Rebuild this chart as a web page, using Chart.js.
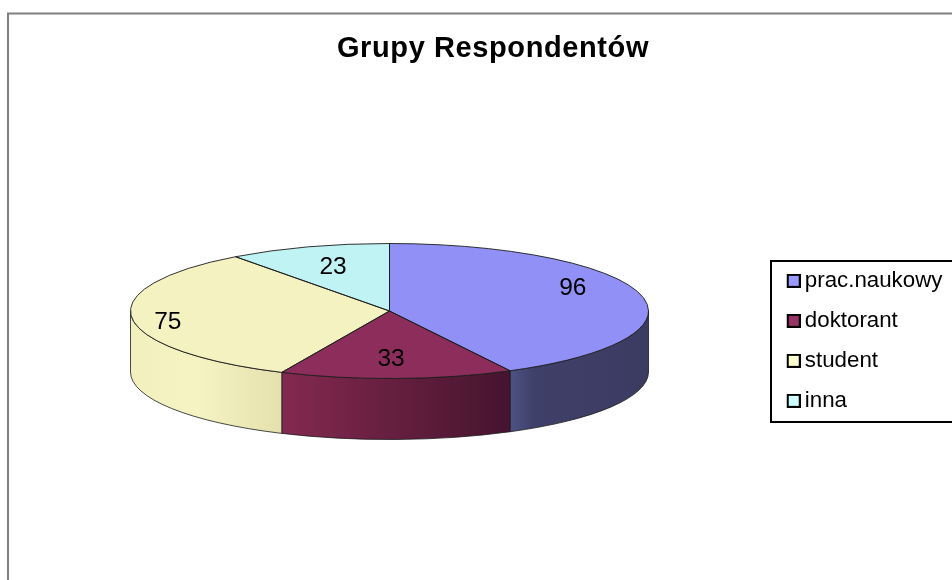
<!DOCTYPE html>
<html lang="pl">
<head>
<meta charset="utf-8">
<title>Grupy Respondentów</title>
<style>html,body{margin:0;padding:0;background:#fff}canvas{display:block}</style>
<script src="https://cdn.jsdelivr.net/npm/chart.js@4/dist/chart.umd.js"></script>
</head>
<body>
<canvas id="c" width="952" height="580"></canvas>
<script>
const categories = ['prac.naukowy', 'doktorant', 'student', 'inna'];
const values = [96, 33, 75, 23];
const topColors = ['#9090f6', '#8c2d5b', '#f3f2c0', '#c0f3f3'];
const legendColors = ['#9999ff', '#993366', '#ffffcc', '#ccffff'];
const titleText = 'Grupy Respondentów';

const FONT = '"Liberation Sans", Arial, sans-serif';
const PIE = {cx: 389.5, cy: 311, rx: 259, ry: 67.5, depth: 61};
const wallStops = [
  [[0, '#4d5283'], [0.18, '#3f4069'], [1, '#3b3b62']],
  [[0, '#842950'], [1, '#45142e']],
  [[0, '#f1f0bd'], [0.45, '#f5f3c2'], [1, '#e5e1ae']],
  [[0, '#c0f3f3'], [1, '#c0f3f3']]
];
const labelAnchors = [[0.708, -0.343], [0.006, 0.71], [-0.856, 0.16], [-0.218, -0.65]];

function swatch(color) {
  const s = document.createElement('canvas');
  s.width = 16; s.height = 14;
  const g = s.getContext('2d');
  g.fillStyle = '#000'; g.fillRect(2, 0, 14, 14);
  g.fillStyle = color; g.fillRect(4, 2, 10, 10);
  return s;
}

const pie3d = {
  id: 'pie3d',
  afterLayout(chart) {
    const t = chart.titleBlock, l = chart.legend;
    t.left = 34; t.right = 952;
    l.left = 774; l.right = 952; l.top = 252; l.bottom = 430;
    if (!t._spaced) {
      const draw = t.draw.bind(t);
      t.draw = function () {
        const ctx = chart.ctx;
        ctx.save();
        ctx.letterSpacing = '0.6px';
        draw();
        ctx.restore();
      };
      t._spaced = true;
    }
  },
  beforeDraw(chart) {
    const ctx = chart.ctx;
    ctx.save();
    ctx.fillStyle = '#fff';
    ctx.fillRect(0, 0, 952, 580);
    ctx.strokeStyle = '#808080';
    ctx.lineWidth = 2;
    ctx.beginPath();
    ctx.moveTo(8, 580); ctx.lineTo(8, 13.5); ctx.lineTo(952, 13.5);
    ctx.stroke();
    ctx.strokeStyle = '#000';
    ctx.lineWidth = 2;
    ctx.strokeRect(771, 261, 183, 161);
    ctx.restore();
  },
  beforeDatasetsDraw(chart) {
    const ctx = chart.ctx, arcs = chart.getDatasetMeta(0).data, P = PIE;
    arcs.forEach((arc, i) => {
      const a = Math.max(arc.startAngle, 0), b = Math.min(arc.endAngle, Math.PI);
      if (b <= a) return;
      const x0 = P.cx + P.rx * Math.cos(b), x1 = P.cx + P.rx * Math.cos(a);
      const g = ctx.createLinearGradient(x0, 0, x1, 0);
      wallStops[i].forEach(s => g.addColorStop(s[0], s[1]));
      ctx.save();
      ctx.beginPath();
      ctx.ellipse(P.cx, P.cy, P.rx, P.ry, 0, a, b);
      ctx.ellipse(P.cx, P.cy + P.depth, P.rx, P.ry, 0, b, a, true);
      ctx.closePath();
      ctx.fillStyle = g;
      ctx.fill();
      ctx.strokeStyle = '#1c1c1c';
      ctx.lineWidth = 0.8;
      ctx.stroke();
      ctx.restore();
    });
    const r = arcs[0].outerRadius;
    ctx.save();
    ctx.translate(P.cx, P.cy);
    ctx.scale(P.rx / r, P.ry / r);
    ctx.translate(-arcs[0].x, -arcs[0].y);
  },
  afterDatasetsDraw(chart) {
    const ctx = chart.ctx, arcs = chart.getDatasetMeta(0).data, P = PIE;
    ctx.restore();
    arcs.forEach((arc) => {
      ctx.save();
      ctx.beginPath();
      ctx.moveTo(P.cx, P.cy);
      ctx.ellipse(P.cx, P.cy, P.rx, P.ry, 0, arc.startAngle, arc.endAngle);
      ctx.closePath();
      ctx.strokeStyle = '#1c1c1c';
      ctx.lineWidth = 0.9;
      ctx.stroke();
      ctx.restore();
    });
    ctx.save();
    ctx.fillStyle = '#000';
    ctx.font = '24.5px ' + FONT;
    ctx.textAlign = 'center';
    ctx.textBaseline = 'middle';
    values.forEach((v, i) => {
      ctx.fillText(String(v), P.cx + labelAnchors[i][0] * P.rx, P.cy + labelAnchors[i][1] * P.ry);
    });
    ctx.restore();
  }
};

new Chart(document.getElementById('c'), {
  type: 'pie',
  data: {
    labels: categories,
    datasets: [{data: values, backgroundColor: topColors, borderWidth: 0}]
  },
  options: {
    responsive: false,
    animation: false,
    radius: 150,
    plugins: {
      tooltip: {enabled: false},
      title: {
        display: true,
        text: titleText,
        color: '#000',
        font: {family: FONT, size: 29, weight: 'bold', lineHeight: 1.2},
        padding: {top: 32, bottom: 10}
      },
      legend: {
        position: 'right',
        align: 'start',
        labels: {
          color: '#000',
          font: {family: FONT, size: 22.3},
          padding: 17.7,
          usePointStyle: true,
          pointStyleWidth: 2,
          generateLabels: () => categories.map((c, i) => ({
            text: c,
            fillStyle: legendColors[i],
            strokeStyle: '#000',
            lineWidth: 0,
            pointStyle: swatch(legendColors[i]),
            hidden: false,
            index: i
          }))
        }
      }
    }
  },
  plugins: [pie3d]
});
</script>
</body>
</html>
